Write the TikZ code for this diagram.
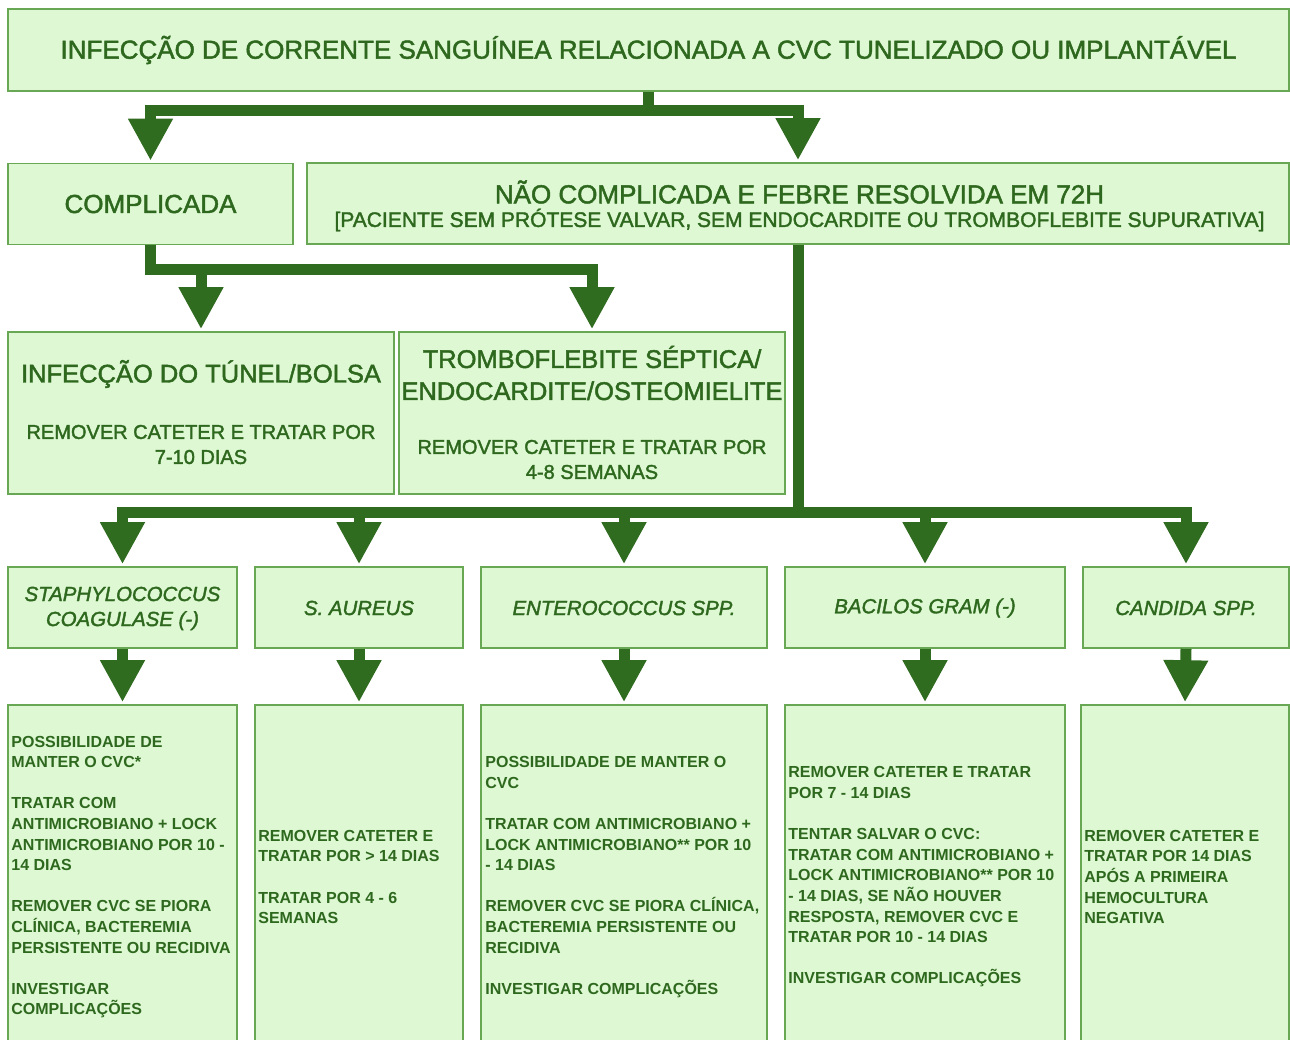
\documentclass[tikz,border=0pt]{standalone}
\usepackage{fontspec}
\setmainfont{Liberation Sans}
\newfontfamily\headfont[FakeBold=1.8]{Liberation Sans}
\usetikzlibrary{arrows.meta,calc}
\definecolor{boxfill}{RGB}{221,248,210}
\definecolor{boxline}{RGB}{104,168,84}
\definecolor{flow}{RGB}{48,108,32}
\definecolor{ink}{RGB}{46,104,30}

\begin{document}
\begin{tikzpicture}[x=1pt,y=-1pt,
  box/.style={draw=boxline, fill=boxfill, line width=1.6pt, inner sep=0pt, text=ink},
  bigtext/.style={text=ink, inner sep=0pt, align=center, font=\headfont\fontsize{25.5}{32}\selectfont},
  subtext/.style={text=ink, inner sep=0pt, align=center, font=\headfont\fontsize{20}{25}\selectfont},
  germ/.style={text=ink, inner sep=0pt, align=center, font=\headfont\itshape\fontsize{20.4}{25}\selectfont},
  note/.style={text=ink, inner sep=0pt, align=left, anchor=west, font=\bfseries\fontsize{16}{20.6}\selectfont},
  bar/.style={draw=flow, line width=11pt},
  conn/.style={draw=flow, line width=11pt, -{Triangle[width=42pt,length=42pt]}, shorten >=2pt}]

\useasboundingbox (0,0) rectangle (1290,1039);
\clip (0,0) rectangle (1290,1039);

% ---- first level
\node[box, minimum width=1281pt, minimum height=82pt,
      font=\headfont\fontsize{26}{32}\selectfont] (top) at (648.5,50)
  {INFECÇÃO DE CORRENTE SANGUÍNEA RELACIONADA A CVC TUNELIZADO OU IMPLANTÁVEL};

% ---- second level
\node[box, minimum width=285pt, minimum height=81pt,
      font=\headfont\fontsize{26}{32}\selectfont] (compl) at (150.5,204) {COMPLICADA};
\node[box, minimum width=982pt, minimum height=81pt] (nc) at (798,203.5) {};
\node[bigtext, font=\headfont\fontsize{26}{32}\selectfont] (ncA) at (799.5,192)
  {NÃO COMPLICADA E FEBRE RESOLVIDA EM 72H};
\node[subtext, font=\headfont\fontsize{21}{25}\selectfont] (ncB) at (799.5,220)
  {[PACIENTE SEM PRÓTESE VALVAR, SEM ENDOCARDITE OU TROMBOFLEBITE SUPURATIVA]};

% ---- complicated branch
\node[box, minimum width=386pt, minimum height=162pt] (tunel) at (201,413) {};
\node[bigtext] (tunelA) at (201,374) {INFECÇÃO DO TÚNEL/BOLSA};
\node[subtext] (tunelB) at (201,444.5) {REMOVER CATETER E TRATAR POR\\7-10 DIAS};

\node[box, minimum width=386pt, minimum height=162pt] (trombo) at (592,413) {};
\node[bigtext] (tromboA) at (592,373) {TROMBOFLEBITE SÉPTICA/\\ENDOCARDITE/OSTEOMIELITE};
\node[subtext] (tromboB) at (592,459.5) {REMOVER CATETER E TRATAR POR\\4-8 SEMANAS};

% ---- organisms
\node[box, minimum width=229pt, minimum height=81pt] (staph) at (122.5,607.5) {};
\node[germ] (staphL) at (122.5,608.5) {STAPHYLOCOCCUS\\COAGULASE (-)};
\node[box, minimum width=208pt, minimum height=81pt] (aureus) at (359,607.5) {};
\node[germ] (aureusL) at (359,608) {S. AUREUS};
\node[box, minimum width=286pt, minimum height=81pt] (entero) at (624,607.5) {};
\node[germ] (enteroL) at (624,608) {ENTEROCOCCUS SPP.};
\node[box, minimum width=280pt, minimum height=81pt] (bacilos) at (925,607.5) {};
\node[germ] (bacilosL) at (925,608) {BACILOS GRAM (-)};
\node[box, minimum width=206pt, minimum height=81pt] (candida) at (1186,607.5) {};
\node[germ] (candidaL) at (1186,608) {CANDIDA SPP.};

% ---- treatment boxes
\node[box, minimum width=229pt, minimum height=340pt] (staphT) at (122.5,875) {};
\node[box, minimum width=208pt, minimum height=340pt] (aureusT) at (359,875) {};
\node[box, minimum width=286pt, minimum height=340pt] (enteroT) at (624,875) {};
\node[box, minimum width=280pt, minimum height=340pt] (bacilosT) at (925,875) {};
\node[box, minimum width=208pt, minimum height=340pt] (candidaT) at (1185,875) {};

\node[note] (staphN) at ($(staphT.west)+(4,2)$)
  {POSSIBILIDADE DE\\MANTER O CVC*\\[20.6pt]TRATAR COM\\ANTIMICROBIANO + LOCK\\ANTIMICROBIANO POR 10 -\\14 DIAS\\[20.6pt]REMOVER CVC SE PIORA\\CLÍNICA, BACTEREMIA\\PERSISTENTE OU RECIDIVA\\[20.6pt]INVESTIGAR\\COMPLICAÇÕES};
\node[note] (aureusN) at ($(aureusT.west)+(4,2)$)
  {REMOVER CATETER E\\TRATAR POR > 14 DIAS\\[20.6pt]TRATAR POR 4 - 6\\SEMANAS};
\node[note] (enteroN) at ($(enteroT.west)+(5,2)$)
  {POSSIBILIDADE DE MANTER O\\CVC\\[20.6pt]TRATAR COM ANTIMICROBIANO +\\LOCK ANTIMICROBIANO** POR 10\\- 14 DIAS\\[20.6pt]REMOVER CVC SE PIORA CLÍNICA,\\BACTEREMIA PERSISTENTE OU\\RECIDIVA\\[20.6pt]INVESTIGAR COMPLICAÇÕES};
\node[note] (bacilosN) at ($(bacilosT.west)+(4,2)$)
  {REMOVER CATETER E TRATAR\\POR 7 - 14 DIAS\\[20.6pt]TENTAR SALVAR O CVC:\\TRATAR COM ANTIMICROBIANO +\\LOCK ANTIMICROBIANO** POR 10\\- 14 DIAS, SE NÃO HOUVER\\RESPOSTA, REMOVER CVC E\\TRATAR POR 10 - 14 DIAS\\[20.6pt]INVESTIGAR COMPLICAÇÕES};
\node[note] (candidaN) at ($(candidaT.west)+(4,2)$)
  {REMOVER CATETER E\\TRATAR POR 14 DIAS\\APÓS A PRIMEIRA\\HEMOCULTURA\\NEGATIVA};

% ---- connectors
\coordinate (j1) at ($(top.south)+(0,19)$);
\draw[bar] (top.south) -- (j1);
\draw[conn] (j1) -| (compl.north);
\draw[conn] (j1) -| (nc.north);

\coordinate (j2) at ($(compl.south)+(0,24)$);
\draw[conn] (compl.south) -- (j2) -| (trombo.north);
\draw[conn] (j2 -| tunel.north) -- (tunel.north);

\coordinate (j3) at ($(nc.south)+(0,268)$);
\draw[conn] (nc.south) -- (j3) -| (staph.north);
\draw[conn] (j3) -| (candida.north);
\draw[conn] (j3 -| aureus.north) -- (aureus.north);
\draw[conn] (j3 -| entero.north) -- (entero.north);
\draw[conn] (j3 -| bacilos.north) -- (bacilos.north);

\draw[conn] (staph.south) -- (staphT.north);
\draw[conn] (aureus.south) -- (aureusT.north);
\draw[conn] (entero.south) -- (enteroT.north);
\draw[conn] (bacilos.south) -- (bacilosT.north);
\draw[conn] (candida.south) -- (candidaT.north);
\end{tikzpicture}
\end{document}
